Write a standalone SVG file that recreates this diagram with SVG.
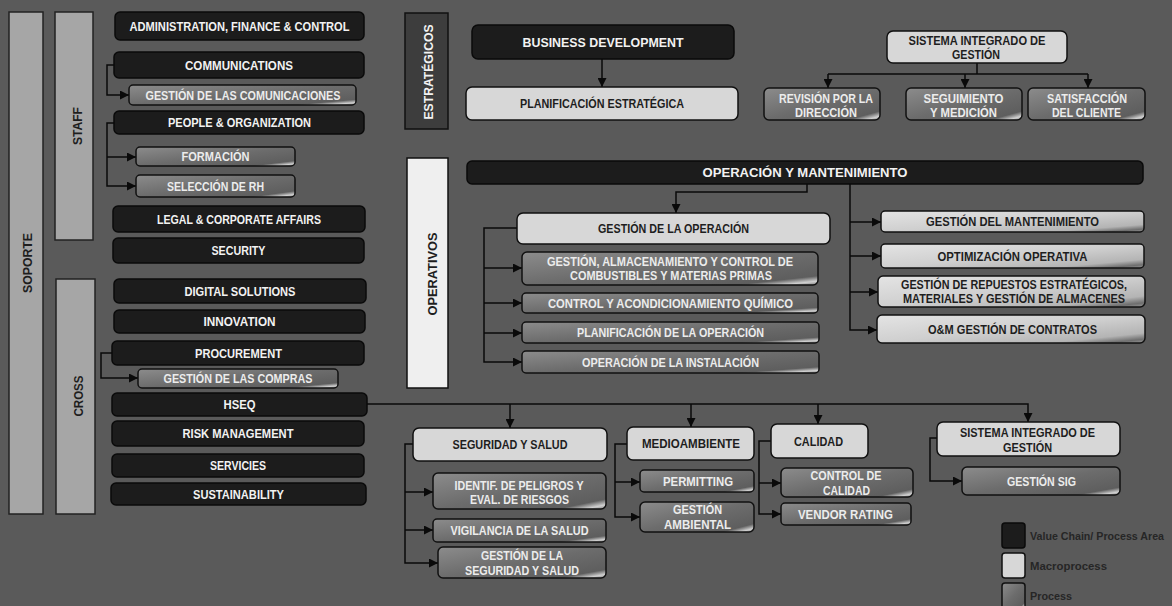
<svg xmlns="http://www.w3.org/2000/svg" width="1172" height="606" viewBox="0 0 1172 606">
<defs>
<marker id="ah" viewBox="0 0 10 10" refX="10" refY="5" markerWidth="9" markerHeight="9" markerUnits="userSpaceOnUse" orient="auto"><path d="M0,0 L10,5 L0,10 z" fill="#0a0a0a"/></marker>
<linearGradient id="gp" x1="0" y1="0" x2="1" y2="1"><stop offset="0" stop-color="#8c8c8c"/><stop offset="0.5" stop-color="#6c6c6c"/><stop offset="0.86" stop-color="#5e5e5e"/><stop offset="0.94" stop-color="#d0d0d0"/><stop offset="1" stop-color="#7a7a7a"/></linearGradient>
<linearGradient id="gl" x1="0" y1="0" x2="1" y2="1"><stop offset="0" stop-color="#e4e4e4"/><stop offset="0.5" stop-color="#cfcfcf"/><stop offset="0.82" stop-color="#b4b4b4"/><stop offset="0.93" stop-color="#6e6e6e"/><stop offset="1" stop-color="#9a9a9a"/></linearGradient>
</defs>
<style>
.vc{fill:#1c1c1c;stroke:#0a0a0a;stroke-width:1.5}
.mp{fill:#d7d7d7;stroke:#111;stroke-width:1.5}
.pr{fill:url(#gp);stroke:#111;stroke-width:1.5}
.pl{fill:url(#gl);stroke:#111;stroke-width:1.5}
.bar{fill:#a6a6a6;stroke:#222;stroke-width:1.5}
.t{font-family:"Liberation Sans",Arial,sans-serif;font-weight:bold;font-size:13px;text-anchor:middle}
.tw{fill:#f2f2f2}
.td{fill:#1e1e1e}
.tp{fill:#ececec}
.ln{fill:none;stroke:#0a0a0a;stroke-width:1.5}
.ar{fill:none;stroke:#0a0a0a;stroke-width:1.5;marker-end:url(#ah)}
.lg{font-family:"Liberation Sans",Arial,sans-serif;font-size:11px;font-weight:bold;fill:#262626}
</style>
<rect x="0" y="0" width="1172" height="606" fill="#5a5a5a"/>

<g id="bars">
<g id="soporte"><rect class="bar" x="9" y="12" width="34" height="502"/><text class="t td" font-size="13" x="27" y="267.5" textLength="60" lengthAdjust="spacingAndGlyphs" transform="rotate(-90 27 263)">SOPORTE</text></g>
<g id="staff"><rect class="bar" x="55" y="12" width="38" height="228"/><text class="t td" font-size="13" x="77" y="130.5" textLength="38" lengthAdjust="spacingAndGlyphs" transform="rotate(-90 77 126)">STAFF</text></g>
<g id="cross"><rect class="bar" x="56" y="279" width="39" height="235"/><text class="t td" font-size="13" x="78" y="400.5" textLength="41" lengthAdjust="spacingAndGlyphs" transform="rotate(-90 78 396)">CROSS</text></g>
<g id="estrategicos"><rect x="405" y="13" width="43" height="116" fill="#3d3d3d" stroke="#111" stroke-width="1.5"/><text class="t tw" font-size="13" x="428" y="76.5" textLength="95" lengthAdjust="spacingAndGlyphs" transform="rotate(-90 428 72)">ESTRATÉGICOS</text></g>
<g id="operativos"><rect x="407" y="158" width="41" height="230" fill="#efefef" stroke="#111" stroke-width="1.5"/><text class="t td" font-size="13" x="432" y="278.5" textLength="83" lengthAdjust="spacingAndGlyphs" transform="rotate(-90 432 274)">OPERATIVOS</text></g>
</g>

<g id="connectors">
<path class="ar" d="M114,65 H107 V95 H129"/>
<path class="ar" d="M114,123 H107 V186 H136"/>
<path class="ar" d="M107,157 H136"/>
<path class="ar" d="M112,353 H101 V378 H138"/>
<path class="ar" d="M602,59 V87"/>
<path class="ln" d="M977,63 V74 M828,74 H1088"/>
<path class="ar" d="M828,74 V88"/>
<path class="ar" d="M965,74 V88"/>
<path class="ar" d="M1088,74 V88"/>
<path class="ar" d="M807,184 V192 H676 V213"/>
<path class="ar" d="M850,184 V330 H877"/>
<path class="ar" d="M850,222 H881"/>
<path class="ar" d="M850,256 H881"/>
<path class="ar" d="M850,292 H878"/>
<path class="ar" d="M517,228 H484 V362 H522"/>
<path class="ar" d="M484,268 H522"/>
<path class="ar" d="M484,303 H522"/>
<path class="ar" d="M484,333 H522"/>
<path class="ar" d="M367,404 H1028 V422"/>
<path class="ar" d="M510,404 V428"/>
<path class="ar" d="M691,404 V427"/>
<path class="ar" d="M818,404 V424"/>
<path class="ar" d="M413,444 H405 V563 H438"/>
<path class="ar" d="M405,492 H433"/>
<path class="ar" d="M405,530 H433"/>
<path class="ar" d="M627,444 H615 V517 H640"/>
<path class="ar" d="M615,482 H640"/>
<path class="ar" d="M771,441 H759 V514 H781"/>
<path class="ar" d="M759,483 H781"/>
<path class="ar" d="M937,438 H930 V481 H962"/>
</g>

<g id="n_admin"><rect class="vc" x="115" y="12" width="249" height="28" rx="5"/><text class="t tw" x="239.5" y="30.7" textLength="220" lengthAdjust="spacingAndGlyphs">ADMINISTRATION, FINANCE &amp; CONTROL</text></g>
<g id="n_comm"><rect class="vc" x="114" y="52" width="250" height="26" rx="5"/><text class="t tw" x="239" y="69.6" textLength="108" lengthAdjust="spacingAndGlyphs">COMMUNICATIONS</text></g>
<g id="n_gcomm"><rect class="pr" x="129" y="85" width="227" height="20" rx="4"/><text class="t tp" x="243" y="99.6" textLength="195" lengthAdjust="spacingAndGlyphs">GESTIÓN DE LAS COMUNICACIONES</text></g>
<g id="n_people"><rect class="vc" x="114" y="111" width="250" height="23" rx="5"/><text class="t tw" x="239.5" y="127.1" textLength="143" lengthAdjust="spacingAndGlyphs">PEOPLE &amp; ORGANIZATION</text></g>
<g id="n_form"><rect class="pr" x="136" y="147" width="159" height="19" rx="4"/><text class="t tp" x="215.5" y="161.1" textLength="68" lengthAdjust="spacingAndGlyphs">FORMACIÓN</text></g>
<g id="n_selrh"><rect class="pr" x="136" y="175" width="159" height="22" rx="4"/><text class="t tp" x="215.5" y="190.6" textLength="97" lengthAdjust="spacingAndGlyphs">SELECCIÓN DE RH</text></g>
<g id="n_legal"><rect class="vc" x="113" y="206" width="252" height="26" rx="5"/><text class="t tw" x="239" y="223.6" textLength="164" lengthAdjust="spacingAndGlyphs">LEGAL &amp; CORPORATE AFFAIRS</text></g>
<g id="n_security"><rect class="vc" x="113" y="238" width="251" height="25" rx="5"/><text class="t tw" x="238.5" y="255.1" textLength="54" lengthAdjust="spacingAndGlyphs">SECURITY</text></g>
<g id="n_digital"><rect class="vc" x="114" y="279" width="252" height="24" rx="5"/><text class="t tw" x="240" y="295.6" textLength="111" lengthAdjust="spacingAndGlyphs">DIGITAL SOLUTIONS</text></g>
<g id="n_innov"><rect class="vc" x="114" y="310" width="251" height="23" rx="5"/><text class="t tw" x="239.5" y="326.1" textLength="72" lengthAdjust="spacingAndGlyphs">INNOVATION</text></g>
<g id="n_proc"><rect class="vc" x="112" y="341" width="252" height="24" rx="5"/><text class="t tw" x="238.5" y="357.6" textLength="87" lengthAdjust="spacingAndGlyphs">PROCUREMENT</text></g>
<g id="n_gcompras"><rect class="pr" x="138" y="369" width="200" height="19" rx="4"/><text class="t tp" x="238" y="383.1" textLength="149" lengthAdjust="spacingAndGlyphs">GESTIÓN DE LAS COMPRAS</text></g>
<g id="n_hseq"><rect class="vc" x="112" y="393" width="255" height="23" rx="5"/><text class="t tw" x="239.5" y="409.1" textLength="32" lengthAdjust="spacingAndGlyphs">HSEQ</text></g>
<g id="n_risk"><rect class="vc" x="112" y="421" width="252" height="25" rx="5"/><text class="t tw" x="238" y="438.1" textLength="111" lengthAdjust="spacingAndGlyphs">RISK MANAGEMENT</text></g>
<g id="n_serv"><rect class="vc" x="112" y="454" width="252" height="23" rx="5"/><text class="t tw" x="238" y="470.1" textLength="56" lengthAdjust="spacingAndGlyphs">SERVICIES</text></g>
<g id="n_sust"><rect class="vc" x="111" y="483" width="255" height="22" rx="5"/><text class="t tw" x="238.5" y="498.6" textLength="91" lengthAdjust="spacingAndGlyphs">SUSTAINABILITY</text></g>

<g id="n_bd"><rect class="vc" x="472" y="25" width="262" height="34" rx="6"/><text class="t tw" font-size="15" x="603" y="47.3" textLength="161" lengthAdjust="spacingAndGlyphs">BUSINESS DEVELOPMENT</text></g>
<g id="n_plan"><rect class="mp" x="466" y="87" width="272" height="33" rx="6"/><text class="t td" x="602" y="108.1" textLength="164" lengthAdjust="spacingAndGlyphs">PLANIFICACIÓN ESTRATÉGICA</text></g>

<g id="n_sig1"><rect class="mp" x="887" y="31" width="180" height="32" rx="6"/><text class="t td" x="977" y="44.5" textLength="137" lengthAdjust="spacingAndGlyphs">SISTEMA INTEGRADO DE</text><text class="t td" x="976" y="58.5" textLength="48" lengthAdjust="spacingAndGlyphs">GESTIÓN</text></g>
<g id="n_rev"><rect class="pr" x="764" y="88" width="116" height="32" rx="5"/><text class="t tp" x="826" y="102.5" textLength="94" lengthAdjust="spacingAndGlyphs">REVISIÓN POR LA</text><text class="t tp" x="826" y="116.5" textLength="62" lengthAdjust="spacingAndGlyphs">DIRECCIÓN</text></g>
<g id="n_seg"><rect class="pr" x="906" y="88" width="116" height="32" rx="5"/><text class="t tp" x="963.5" y="102.5" textLength="80" lengthAdjust="spacingAndGlyphs">SEGUIMIENTO</text><text class="t tp" x="963.5" y="116.5" textLength="67" lengthAdjust="spacingAndGlyphs">Y MEDICIÓN</text></g>
<g id="n_sat"><rect class="pr" x="1028" y="88" width="117" height="32" rx="5"/><text class="t tp" x="1087" y="102.5" textLength="80" lengthAdjust="spacingAndGlyphs">SATISFACCIÓN</text><text class="t tp" x="1086.5" y="116.5" textLength="69" lengthAdjust="spacingAndGlyphs">DEL CLIENTE</text></g>

<g id="n_oym"><rect class="vc" x="467" y="161" width="676" height="23" rx="5"/><text class="t tw" x="805" y="177.1" textLength="205" lengthAdjust="spacingAndGlyphs">OPERACIÓN Y MANTENIMIENTO</text></g>
<g id="n_gop"><rect class="mp" x="517" y="213" width="313" height="31" rx="6"/><text class="t td" x="673.5" y="233.1" textLength="151" lengthAdjust="spacingAndGlyphs">GESTIÓN DE LA OPERACIÓN</text></g>
<g id="n_galm"><rect class="pr" x="522" y="252" width="296" height="33" rx="5"/><text class="t tp" x="670" y="265.5" textLength="246" lengthAdjust="spacingAndGlyphs">GESTIÓN, ALMACENAMIENTO Y CONTROL DE</text><text class="t tp" x="671" y="279.5" textLength="202" lengthAdjust="spacingAndGlyphs">COMBUSTIBLES Y MATERIAS PRIMAS</text></g>
<g id="n_cq"><rect class="pr" x="522" y="293" width="296" height="20" rx="4"/><text class="t tp" x="670.5" y="307.6" textLength="245" lengthAdjust="spacingAndGlyphs">CONTROL Y ACONDICIONAMIENTO QUÍMICO</text></g>
<g id="n_plop"><rect class="pr" x="522" y="322" width="297" height="21" rx="4"/><text class="t tp" x="670.5" y="337.1" textLength="187" lengthAdjust="spacingAndGlyphs">PLANIFICACIÓN DE LA OPERACIÓN</text></g>
<g id="n_opins"><rect class="pr" x="522" y="351" width="297" height="22" rx="4"/><text class="t tp" x="670.5" y="366.6" textLength="177" lengthAdjust="spacingAndGlyphs">OPERACIÓN DE LA INSTALACIÓN</text></g>

<g id="n_gmant"><rect class="pl" x="881" y="211" width="263" height="21" rx="4"/><text class="t td" x="1012.5" y="226.1" textLength="173" lengthAdjust="spacingAndGlyphs">GESTIÓN DEL MANTENIMIENTO</text></g>
<g id="n_optop"><rect class="pl" x="881" y="244" width="263" height="24" rx="4"/><text class="t td" x="1012.5" y="260.6" textLength="150" lengthAdjust="spacingAndGlyphs">OPTIMIZACIÓN OPERATIVA</text></g>
<g id="n_rep"><rect class="pl" x="878" y="276" width="267" height="31" rx="5"/><text class="t td" x="1014" y="288.5" textLength="226" lengthAdjust="spacingAndGlyphs">GESTIÓN DE REPUESTOS ESTRATÉGICOS,</text><text class="t td" x="1014" y="302.5" textLength="222" lengthAdjust="spacingAndGlyphs">MATERIALES Y GESTIÓN DE ALMACENES</text></g>
<g id="n_contr"><rect class="pl" x="877" y="315" width="268" height="28" rx="5"/><text class="t td" x="1012.5" y="333.6" textLength="169" lengthAdjust="spacingAndGlyphs">O&amp;M GESTIÓN DE CONTRATOS</text></g>

<g id="n_ss"><rect class="mp" x="413" y="428" width="194" height="33" rx="6"/><text class="t td" x="510" y="449.1" textLength="115" lengthAdjust="spacingAndGlyphs">SEGURIDAD Y SALUD</text></g>
<g id="n_idp"><rect class="pr" x="433" y="473" width="173" height="36" rx="5"/><text class="t tp" x="519" y="489.5" textLength="129" lengthAdjust="spacingAndGlyphs">IDENTIF. DE PELIGROS Y</text><text class="t tp" x="519.5" y="503.5" textLength="99" lengthAdjust="spacingAndGlyphs">EVAL. DE RIESGOS</text></g>
<g id="n_vig"><rect class="pr" x="433" y="519" width="173" height="23" rx="4"/><text class="t tp" x="519.5" y="535.1" textLength="138" lengthAdjust="spacingAndGlyphs">VIGILANCIA DE LA SALUD</text></g>
<g id="n_gss"><rect class="pr" x="438" y="547" width="168" height="31" rx="5"/><text class="t tp" x="522" y="559.5" textLength="82" lengthAdjust="spacingAndGlyphs">GESTIÓN DE LA</text><text class="t tp" x="522" y="574.5" textLength="114" lengthAdjust="spacingAndGlyphs">SEGURIDAD Y SALUD</text></g>

<g id="n_med"><rect class="mp" x="627" y="427" width="127" height="33" rx="6"/><text class="t td" x="691" y="448.1" textLength="98" lengthAdjust="spacingAndGlyphs">MEDIOAMBIENTE</text></g>
<g id="n_perm"><rect class="pr" x="640" y="470" width="114" height="22" rx="4"/><text class="t tp" x="698" y="485.6" textLength="70" lengthAdjust="spacingAndGlyphs">PERMITTING</text></g>
<g id="n_gamb"><rect class="pr" x="640" y="502" width="114" height="30" rx="5"/><text class="t tp" x="697.5" y="514" textLength="49" lengthAdjust="spacingAndGlyphs">GESTIÓN</text><text class="t tp" x="697.5" y="528.5" textLength="67" lengthAdjust="spacingAndGlyphs">AMBIENTAL</text></g>

<g id="n_cal"><rect class="mp" x="771" y="424" width="97" height="34" rx="6"/><text class="t td" x="818.5" y="445.6" textLength="49" lengthAdjust="spacingAndGlyphs">CALIDAD</text></g>
<g id="n_ccal"><rect class="pr" x="781" y="468" width="132" height="29" rx="5"/><text class="t tp" x="846" y="480" textLength="71" lengthAdjust="spacingAndGlyphs">CONTROL DE</text><text class="t tp" x="846.5" y="494.5" textLength="47" lengthAdjust="spacingAndGlyphs">CALIDAD</text></g>
<g id="n_vend"><rect class="pr" x="781" y="503" width="130" height="22" rx="4"/><text class="t tp" x="845.5" y="518.6" textLength="95" lengthAdjust="spacingAndGlyphs">VENDOR RATING</text></g>

<g id="n_sig2"><rect class="mp" x="937" y="422" width="183" height="34" rx="6"/><text class="t td" x="1027.5" y="436.5" textLength="135" lengthAdjust="spacingAndGlyphs">SISTEMA INTEGRADO DE</text><text class="t td" x="1027.5" y="451.5" textLength="49" lengthAdjust="spacingAndGlyphs">GESTIÓN</text></g>
<g id="n_gsig"><rect class="pr" x="962" y="467" width="158" height="28" rx="5"/><text class="t tp" x="1041.5" y="485.6" textLength="69" lengthAdjust="spacingAndGlyphs">GESTIÓN SIG</text></g>

<g id="legend">
<rect x="1002" y="523" width="23" height="25" rx="3" fill="#1c1c1c" stroke="#0a0a0a" stroke-width="1.5"/>
<rect x="1002" y="553" width="23" height="25" rx="3" fill="#d7d7d7" stroke="#111" stroke-width="1.5"/>
<rect x="1002" y="583" width="23" height="26" rx="3" fill="url(#gp)" stroke="#111" stroke-width="1.5"/>
<text class="lg" font-size="10.5" x="1030" y="540" textLength="134" lengthAdjust="spacingAndGlyphs">Value Chain/ Process Area</text>
<text class="lg" x="1030" y="570" textLength="77" lengthAdjust="spacingAndGlyphs">Macroprocess</text>
<text class="lg" x="1030" y="600" textLength="42" lengthAdjust="spacingAndGlyphs">Process</text>
</g>
</svg>
